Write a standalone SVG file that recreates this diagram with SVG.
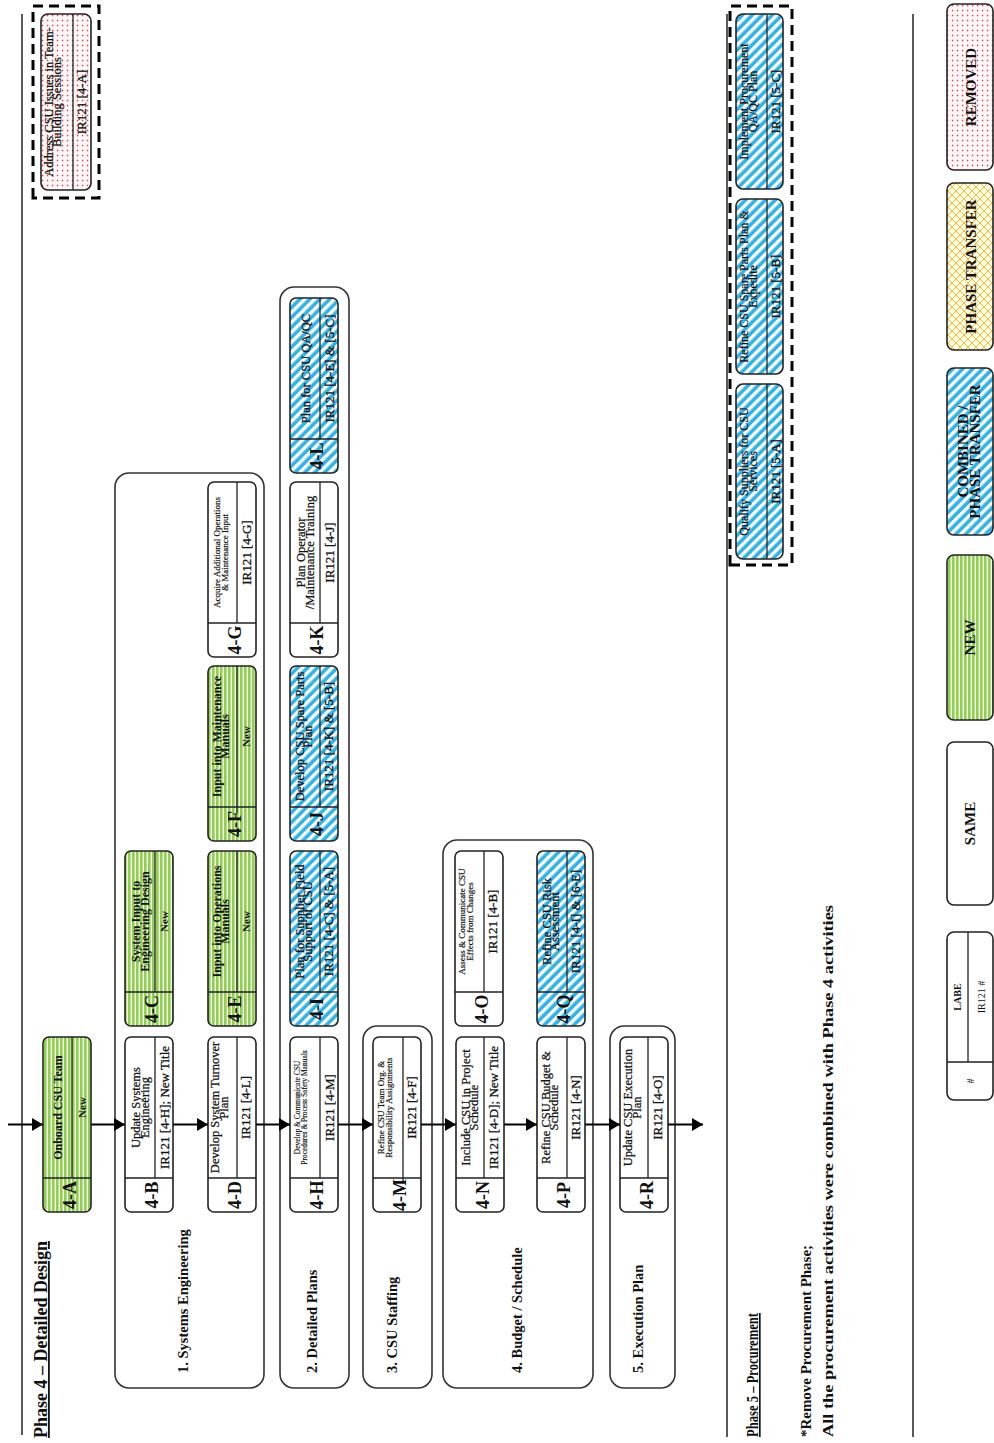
<svg xmlns="http://www.w3.org/2000/svg" width="994" height="1443" viewBox="0 0 994 1443">
<defs>
<pattern id="pGreen" patternUnits="userSpaceOnUse" width="8" height="4"><rect width="8" height="4" fill="#f2fae6"/><rect width="8" height="2.6" fill="#92cd55"/></pattern>
<pattern id="pBlue" patternUnits="userSpaceOnUse" width="7" height="7" patternTransform="rotate(-45)"><rect width="7" height="7" fill="#ffffff"/><rect width="3.6" height="7" fill="#2fb2e6"/></pattern>
<pattern id="pRed" patternUnits="userSpaceOnUse" width="5" height="5"><rect width="5" height="5" fill="#fff7f7"/><circle cx="2.5" cy="2.5" r="0.85" fill="#e23c4c"/></pattern>
<pattern id="pYel" patternUnits="userSpaceOnUse" width="8" height="8"><rect width="8" height="8" fill="#fffbe6"/><path d="M0,0L8,8M8,0L0,8" stroke="#f0c030" stroke-width="1"/></pattern>
<marker id="arr" markerUnits="userSpaceOnUse" markerWidth="11" markerHeight="13" refX="11" refY="6.5" orient="auto"><path d="M0,0L11,6.5L0,13z" fill="#000"/></marker>
<style>
.box{stroke:#222;stroke-width:1.6}
.grp{fill:none;stroke:#333;stroke-width:1.6}
.dl{stroke:#222;stroke-width:1.3;fill:none}
.white{fill:#fff}
.green{fill:url(#pGreen)}
.blue{fill:url(#pBlue)}
.red{fill:url(#pRed)}
.yel{fill:url(#pYel)}
.dash{fill:none;stroke:#000;stroke-width:3;stroke-dasharray:10 6}
.rule{stroke:#222;stroke-width:1.5}
.conn{stroke:#000;stroke-width:2;marker-end:url(#arr)}
text{font-family:"Liberation Serif","Times New Roman",serif;fill:#111}
.id{font-size:18px;font-weight:bold;text-anchor:middle}
.t{font-size:12.5px;text-anchor:middle;stroke:#111;stroke-width:0.25}
.tb{font-size:12px;font-weight:bold;text-anchor:middle}
.ts{font-size:9px;text-anchor:middle;stroke:#111;stroke-width:0.2}
.tx{font-size:7.5px;text-anchor:middle;stroke:#111;stroke-width:0.15}
.r{font-size:13px;text-anchor:middle;stroke:#111;stroke-width:0.3}
.nw{font-size:11px;font-weight:bold;text-anchor:middle}
.gl{font-size:14.5px;font-weight:bold}
.ph{font-size:18px;font-weight:bold;text-decoration:underline}
.ph5{font-size:16.5px;font-weight:bold;text-decoration:underline}
.note{font-size:15px;font-weight:bold}
.lg{font-size:15px;font-weight:bold;text-anchor:middle}
.lgs{font-size:10px;font-weight:bold;text-anchor:middle}
.lgn{font-size:10px;text-anchor:middle}
.p5t{font-size:12px;text-anchor:middle;stroke:#111;stroke-width:0.2}
</style>
</defs>
<rect width="994" height="1443" fill="#fff"/>
<g transform="matrix(0 -1 1 0 0 1443)">
<g id="rules">
<line class="rule" x1="8" y1="22" x2="1429" y2="22"/>
<line class="rule" x1="6" y1="727" x2="1429" y2="727"/>
<line class="rule" x1="6" y1="913" x2="1429" y2="913"/>
</g>
<text id="phase4-title" class="ph" x="5" y="47">Phase 4 – Detailed Design</text>
<g id="grp1"><rect class="grp" x="55" y="115" width="915" height="149" rx="14"/><text class="gl" x="70" y="188">1. Systems Engineering</text></g>
<g id="grp2"><rect class="grp" x="55" y="280" width="1101" height="69" rx="14"/><text class="gl" x="70" y="317">2. Detailed Plans</text></g>
<g id="grp3"><rect class="grp" x="55" y="363" width="362" height="69" rx="14"/><text class="gl" x="70" y="397">3. CSU Staffing</text></g>
<g id="grp4"><rect class="grp" x="55" y="443" width="548" height="150" rx="14"/><text class="gl" x="70" y="522">4. Budget / Schedule</text></g>
<g id="grp5"><rect class="grp" x="55" y="610" width="362" height="65" rx="14"/><text class="gl" x="70" y="643">5. Execution Plan</text></g>

<g id="n4A"><rect class="box green" x="231" y="43" width="175" height="48" rx="6"/><path class="dl" d="M265,43V91M265,72H406"/><text class="id" x="248" y="75.5">4-A</text><text class="tb" x="335.5" y="62">Onboard CSU Team</text><text class="nw" x="335.5" y="86">New</text></g>
<g id="n4B"><rect class="box white" x="231" y="125" width="175" height="48" rx="6"/><path class="dl" d="M265,125V173M265,155H406"/><text class="id" x="248" y="157.5">4-B</text><text class="t" x="335.5" y="139.5">Update Systems</text><text class="t" x="335.5" y="148.5">Engineering</text><text class="r" x="335.5" y="169">IR121 [4-H]; New Title</text></g>
<g id="n4C"><rect class="box green" x="417" y="125" width="175" height="48" rx="6"/><path class="dl" d="M451,125V173M451,155H592"/><text class="id" x="434" y="157.5">4-C</text><text class="tb" x="521.5" y="140">System Input to</text><text class="tb" x="521.5" y="149">Engineering Design</text><text class="nw" x="521.5" y="168">New</text></g>
<g id="n4D"><rect class="box white" x="231" y="208" width="175" height="48" rx="6"/><path class="dl" d="M265,208V256M265,237H406"/><text class="id" x="248" y="240.5">4-D</text><text class="t" x="335.5" y="219">Develop System Turnover</text><text class="t" x="335.5" y="228">Plan</text><text class="r" x="335.5" y="250">IR121 [4-L]</text></g>
<g id="n4E"><rect class="box green" x="417" y="208" width="175" height="48" rx="6"/><path class="dl" d="M451,208V256M451,237H592"/><text class="id" x="434" y="240.5">4-E</text><text class="tb" x="521.5" y="221">Input into Operations</text><text class="tb" x="521.5" y="229">Manuals</text><text class="nw" x="521.5" y="250">New</text></g>
<g id="n4F"><rect class="box green" x="602" y="208" width="175" height="48" rx="6"/><path class="dl" d="M636,208V256M630,237H777"/><text class="id" x="619" y="240.5">4-F</text><text class="tb" x="706.5" y="221">Input into Maintenance</text><text class="tb" x="706.5" y="229">Manuals</text><text class="nw" x="706.5" y="250">New</text></g>
<g id="n4G"><rect class="box white" x="786" y="208" width="175" height="48" rx="6"/><path class="dl" d="M820,208V256M820,237H961"/><text class="id" x="803" y="240.5">4-G</text><text class="ts" x="890.5" y="220">Acquire Additional Operations</text><text class="ts" x="890.5" y="227.5">&amp; Maintenance Input</text><text class="r" x="890.5" y="251">IR121 [4-G]</text></g>
<g id="n4H"><rect class="box white" x="231" y="290" width="175" height="48" rx="6"/><path class="dl" d="M265,290V338M265,320H406"/><text class="id" x="248" y="322.5">4-H</text><text class="tx" x="335.5" y="300">Develop &amp; Communicate CSU</text><text class="tx" x="335.5" y="306.5">Procedures &amp; Process Safety Manuals</text><text class="r" x="335.5" y="334">IR121 [4-M]</text></g>
<g id="n4I"><rect class="box blue" x="417" y="290" width="175" height="48" rx="6"/><path class="dl" d="M451,290V338M451,320H592"/><text class="id" x="434" y="322.5">4-I</text><text class="t" x="521.5" y="304">Plan for Supplier Field</text><text class="t" x="521.5" y="312">Support of CSU</text><text class="r" x="521.5" y="333">IR121 [4-C] &amp; [5-A]</text></g>
<g id="n4J"><rect class="box blue" x="602" y="290" width="175" height="48" rx="6"/><path class="dl" d="M636,290V338M636,320H777"/><text class="id" x="619" y="322.5">4-J</text><text class="t" x="706.5" y="304">Develop CSU Spare Parts</text><text class="t" x="706.5" y="312">Plan</text><text class="r" x="706.5" y="333">IR121 [4-K] &amp; [5-B]</text></g>
<g id="n4K"><rect class="box white" x="786" y="290" width="175" height="48" rx="6"/><path class="dl" d="M820,290V338M820,320H961"/><text class="id" x="803" y="322.5">4-K</text><text class="t" x="890.5" y="305">Plan Operator</text><text class="t" x="890.5" y="314">/Maintenance Training</text><text class="r" x="890.5" y="334">IR121 [4-J]</text></g>
<g id="n4L"><rect class="box blue" x="970" y="290" width="175" height="48" rx="6"/><path class="dl" d="M1004,290V338M1004,320H1145"/><text class="id" x="987" y="322.5">4-L</text><text class="t" x="1074.5" y="310">Plan for CSU QA/QC</text><text class="r" x="1074.5" y="334">IR121 [4-E] &amp; [5-C]</text></g>
<g id="n4M"><rect class="box white" x="231" y="373" width="175" height="48" rx="6"/><path class="dl" d="M265,373V421M260,403H406"/><text class="id" x="248" y="405.5">4-M</text><text class="ts" x="335.5" y="384">Refine CSU Team Org. &amp;</text><text class="ts" x="335.5" y="391.5">Responsibility Assignments</text><text class="r" x="335.5" y="416">IR121 [4-F]</text></g>
<g id="n4N"><rect class="box white" x="231" y="456" width="175" height="48" rx="6"/><path class="dl" d="M265,456V504M265,484H406"/><text class="id" x="248" y="488.5">4-N</text><text class="t" x="335.5" y="470">Include CSU in Project</text><text class="t" x="335.5" y="478">Schedule</text><text class="r" x="335.5" y="498">IR121 [4-D]; New Title</text></g>
<g id="n4O"><rect class="box white" x="417" y="455" width="175" height="48" rx="6"/><path class="dl" d="M451,455V503M451,484H592"/><text class="id" x="434" y="487.5">4-O</text><text class="ts" x="521.5" y="465">Assess &amp; Communicate CSU</text><text class="ts" x="521.5" y="473">Effects from Changes</text><text class="r" x="521.5" y="497">IR121 [4-B]</text></g>
<g id="n4P"><rect class="box white" x="231" y="537" width="175" height="48" rx="6"/><path class="dl" d="M265,537V585M265,567H406"/><text class="id" x="248" y="569.5">4-P</text><text class="t" x="335.5" y="550">Refine CSU Budget &amp;</text><text class="t" x="335.5" y="558">Schedule</text><text class="r" x="335.5" y="580">IR121 [4-N]</text></g>
<g id="n4Q"><rect class="box blue" x="417" y="537" width="175" height="48" rx="6"/><path class="dl" d="M451,537V585M451,567H592"/><text class="id" x="434" y="569.5">4-Q</text><text class="t" x="521.5" y="551">Refine CSU Risk</text><text class="t" x="521.5" y="559">Assessment</text><text class="r" x="521.5" y="580">IR121 [4-I] &amp; [6-E]</text></g>
<g id="n4R"><rect class="box white" x="231" y="620" width="175" height="48" rx="6"/><path class="dl" d="M265,620V668M265,648H406"/><text class="id" x="248" y="652.5">4-R</text><text class="t" x="335.5" y="632">Update CSU Execution</text><text class="t" x="335.5" y="641">Plan</text><text class="r" x="335.5" y="662">IR121 [4-O]</text></g>

<g id="removed-4A">
<rect class="dash" x="1245" y="33" width="192" height="66"/>
<rect class="box red" x="1253" y="41" width="176" height="50" rx="7"/><path class="dl" d="M1253,73H1429"/>
<text class="t" x="1341" y="53">Address CSU Issues in Team-</text><text class="t" x="1341" y="61">Building Sessions</text><text class="r" x="1341" y="86">IR121 [4-A]</text>
</g>

<g id="connectors">
<line class="conn" x1="318.5" y1="8" x2="318.5" y2="43"/>
<line class="conn" x1="318.5" y1="91" x2="318.5" y2="125"/>
<line class="conn" x1="318.5" y1="173" x2="318.5" y2="208"/>
<line class="conn" x1="318.5" y1="256" x2="318.5" y2="290"/>
<line class="conn" x1="318.5" y1="338" x2="318.5" y2="373"/>
<line class="conn" x1="318.5" y1="421" x2="318.5" y2="456"/>
<line class="conn" x1="318.5" y1="504" x2="318.5" y2="537"/>
<line class="conn" x1="318.5" y1="585" x2="318.5" y2="620"/>
<line class="conn" x1="318.5" y1="668" x2="318.5" y2="703"/>
</g>

<text id="phase5-title" class="ph5" x="6" y="758" textLength="124" lengthAdjust="spacingAndGlyphs">Phase 5 – Procurement</text>
<text id="note1" class="note" x="6" y="811" textLength="192" lengthAdjust="spacingAndGlyphs">*Remove Procurement Phase;</text>
<text id="note2" class="note" x="6" y="833" textLength="532" lengthAdjust="spacingAndGlyphs">All the procurement activities were combined with Phase 4 activities</text>

<g id="phase5">
<rect class="dash" x="878" y="730" width="559" height="62"/>
<g id="p5A"><rect class="box blue" x="884" y="736" width="175" height="47" rx="7"/><path class="dl" d="M884,767H1059"/><text class="p5t" x="971.5" y="748">Qualify Suppliers for CSU</text><text class="p5t" x="971.5" y="757">Services</text><text class="r" x="971.5" y="780">IR121 [5-A]</text></g>
<g id="p5B"><rect class="box blue" x="1069" y="736" width="175" height="47" rx="7"/><path class="dl" d="M1069,767H1244"/><text class="p5t" x="1156.5" y="748">Refine CSU Spare Parts Plan &amp;</text><text class="p5t" x="1156.5" y="757">Expedite</text><text class="r" x="1156.5" y="780">IR121 [5-B]</text></g>
<g id="p5C"><rect class="box blue" x="1254" y="736" width="175" height="47" rx="7"/><path class="dl" d="M1254,767H1429"/><text class="p5t" x="1341.5" y="748">Implement Procurement</text><text class="p5t" x="1341.5" y="757">QA/QC Plan</text><text class="r" x="1341.5" y="780">IR121 [5-C]</text></g>
</g>

<g id="legend">
<g id="lg-label"><rect class="box white" x="343" y="947" width="168" height="46" rx="7"/><path class="dl" d="M381,947V993M381,968H511"/><text class="lgn" x="362" y="974">#</text><text class="lgs" x="446" y="961">LABE</text><text class="lgn" x="446" y="985">IR121 #</text></g>
<g id="lg-same"><rect class="box white" x="538" y="947" width="163" height="46" rx="7"/><text class="lg" x="619.5" y="975">SAME</text></g>
<g id="lg-new"><rect class="box green" x="723" y="947" width="165" height="46" rx="7"/><text class="lg" x="805.5" y="975">NEW</text></g>
<g id="lg-comb"><rect class="box blue" x="908" y="947" width="167" height="46" rx="7"/><text class="lg" x="991.5" y="968">COMBINED /</text><text class="lg" x="991.5" y="980">PHASE TRANSFER</text></g>
<g id="lg-pt"><rect class="box yel" x="1093" y="947" width="167" height="46" rx="7"/><text class="lg" x="1176.5" y="976">PHASE TRANSFER</text></g>
<g id="lg-rem"><rect class="box red" x="1273" y="947" width="166" height="46" rx="7"/><text class="lg" x="1356" y="976">REMOVED</text></g>
</g>
</g>
</svg>
